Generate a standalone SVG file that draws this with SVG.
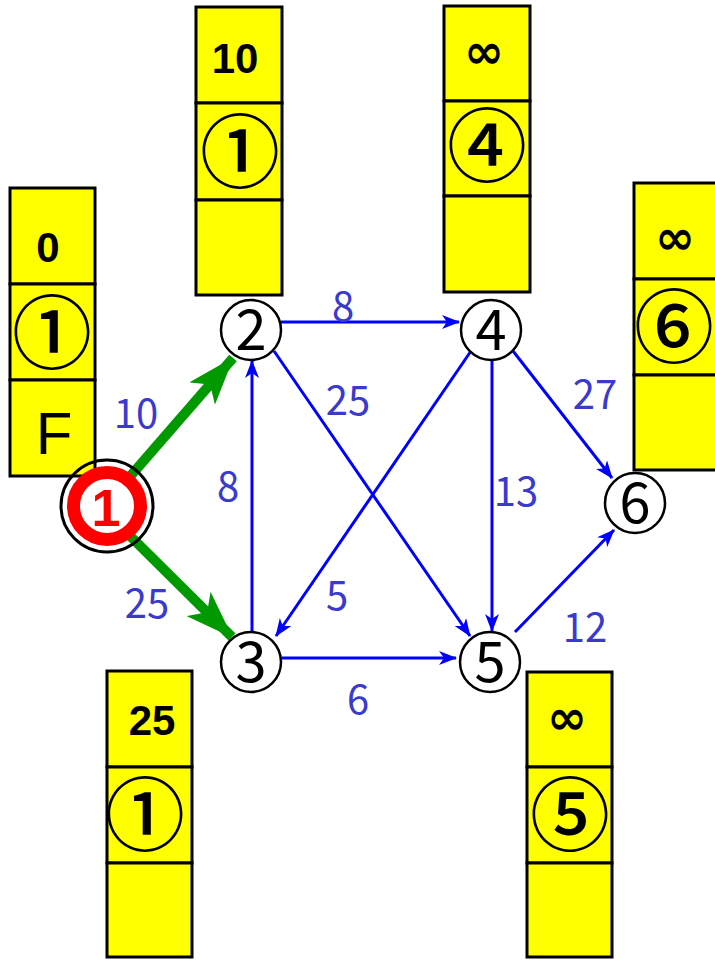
<svg xmlns="http://www.w3.org/2000/svg" width="715" height="960" viewBox="0 0 715 960">
<style>
.cell{fill:#ffff00;stroke:#000;stroke-width:3}
.tv{font-family:"Liberation Sans",Arial,sans-serif;font-weight:bold;font-size:42px;text-anchor:middle;fill:#000}
.inf{font-family:"DejaVu Sans",sans-serif;font-weight:bold;font-size:48px;text-anchor:middle;fill:#000}
.cn{font-family:"Noto Sans CJK JP",sans-serif;font-weight:500;font-size:80px;text-anchor:middle;fill:#000}
.f{font-family:"Liberation Sans",Arial,sans-serif;font-size:60px;text-anchor:middle;fill:#000}
.node{fill:#fff;stroke:#000;stroke-width:2.5}
.nl{font-family:"Noto Sans CJK JP",sans-serif;font-size:56px;text-anchor:middle;fill:#000}
.edge{stroke:#0000ff;stroke-width:3;fill:none;marker-end:url(#ab)}
.g{stroke:#009900;stroke-width:10;fill:none;marker-end:url(#ag)}
.wl{font-family:"Noto Sans CJK JP",sans-serif;font-size:40px;text-anchor:middle;fill:#3a3acc}
</style>
<defs>
<marker id="ab" markerWidth="18" markerHeight="14" refX="17" refY="7" orient="auto" markerUnits="userSpaceOnUse">
<path d="M0,0 L18,7 L0,14 L5,7 z" fill="#0000ff"/>
</marker>
<marker id="ag" markerWidth="48" markerHeight="34" refX="47" refY="17" orient="auto" markerUnits="userSpaceOnUse">
<path d="M0,0 L48,17 L0,34 L12,17 z" fill="#009900"/>
</marker>
</defs>

<g id="connectors">
<line class="g" x1="120" y1="488" x2="233" y2="358"/>
<line class="g" x1="120" y1="526" x2="232" y2="637"/>
<line class="edge" x1="281" y1="322" x2="459" y2="322"/>
<line class="edge" x1="274" y1="351" x2="470" y2="636"/>
<line class="edge" x1="252" y1="633" x2="252" y2="361"/>
<line class="edge" x1="471" y1="351" x2="276" y2="636"/>
<line class="edge" x1="492" y1="360" x2="492" y2="631"/>
<line class="edge" x1="513" y1="351" x2="612" y2="478"/>
<line class="edge" x1="282" y1="658" x2="456" y2="658"/>
<line class="edge" x1="515" y1="632" x2="614" y2="530"/>
<text class="wl" x="343" y="321">8</text>
<text class="wl" x="348" y="415">25</text>
<text class="wl" x="136" y="428">10</text>
<text class="wl" x="228" y="501">8</text>
<text class="wl" x="147" y="618">25</text>
<text class="wl" x="337" y="610">5</text>
<text class="wl" x="358" y="714">6</text>
<text class="wl" x="516" y="506">13</text>
<text class="wl" x="595" y="409">27</text>
<text class="wl" x="585" y="642">12</text>
</g>

<g id="table1">
<rect class="cell" x="10" y="188" width="85" height="96"/>
<rect class="cell" x="10" y="284" width="85" height="96"/>
<rect class="cell" x="10" y="380" width="85" height="96"/>
<text class="tv" x="48" y="262">0</text>
<text class="cn" x="52" y="362">①</text>
<text class="f" x="54" y="454">F</text>
</g>
<g id="table2">
<rect class="cell" x="196" y="7" width="86" height="96"/>
<rect class="cell" x="196" y="103" width="86" height="97"/>
<rect class="cell" x="196" y="200" width="86" height="95"/>
<text class="tv" x="235" y="73">10</text>
<text class="cn" x="240" y="181">①</text>
</g>
<g id="table3">
<rect class="cell" x="107" y="671" width="85" height="96"/>
<rect class="cell" x="107" y="767" width="85" height="96"/>
<rect class="cell" x="107" y="863" width="85" height="94"/>
<text class="tv" x="152" y="735">25</text>
<text class="cn" x="145" y="844">①</text>
</g>
<g id="table4">
<rect class="cell" x="444" y="6" width="86" height="95"/>
<rect class="cell" x="444" y="101" width="86" height="95"/>
<rect class="cell" x="444" y="196" width="86" height="96"/>
<text class="inf" x="484" y="68">∞</text>
<text class="cn" x="487" y="175">④</text>
</g>
<g id="table5">
<rect class="cell" x="527" y="672" width="85" height="95"/>
<rect class="cell" x="527" y="767" width="85" height="96"/>
<rect class="cell" x="527" y="863" width="85" height="94"/>
<text class="inf" x="567" y="734">∞</text>
<text class="cn" x="570" y="844">⑤</text>
</g>
<g id="table6">
<rect class="cell" x="634" y="183" width="85" height="96"/>
<rect class="cell" x="634" y="279" width="85" height="96"/>
<rect class="cell" x="634" y="375" width="85" height="95"/>
<text class="inf" x="675" y="254">∞</text>
<text class="cn" x="674" y="356">⑥</text>
</g>

<g id="node1">
<circle cx="107" cy="506" r="46" fill="none" stroke="#000" stroke-width="3"/>
<circle cx="107" cy="506" r="33.5" fill="#fff" stroke="#ff0000" stroke-width="13"/>
<text x="106" y="526" font-family="Liberation Sans,Arial,sans-serif" font-weight="bold" font-size="52" text-anchor="middle" fill="#ff0000">1</text>
</g>
<g id="node2"><circle class="node" cx="251" cy="330" r="30"/><text class="nl" x="251" y="350">2</text></g>
<g id="node3"><circle class="node" cx="251" cy="662" r="30"/><text class="nl" x="251" y="682">3</text></g>
<g id="node4"><circle class="node" cx="491" cy="330" r="30"/><text class="nl" x="491" y="350">4</text></g>
<g id="node5"><circle class="node" cx="490" cy="662" r="30"/><text class="nl" x="490" y="682">5</text></g>
<g id="node6"><circle class="node" cx="635" cy="503" r="30"/><text class="nl" x="635" y="523">6</text></g>
</svg>
